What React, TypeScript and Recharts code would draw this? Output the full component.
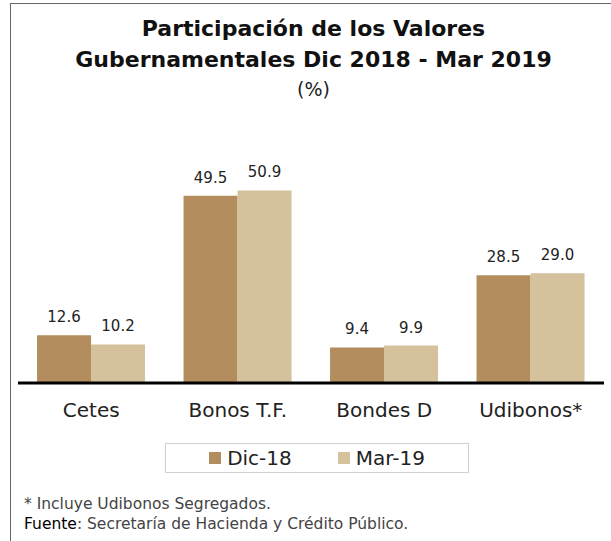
import React from 'react';
import { BarChart, Bar, XAxis, YAxis, LabelList } from 'recharts';

const categories = ['Cetes', 'Bonos T.F.', 'Bondes D', 'Udibonos*'];
const dic18 = [12.6, 49.5, 9.4, 28.5];
const mar19 = [10.2, 50.9, 9.9, 29.0];

const seriesNames = ['Dic-18', 'Mar-19'];
const colors = ['#B38D5E', '#D5C19C'];

const font = '"DejaVu Sans", sans-serif';

const data = categories.map((name, i) => ({ name, dic18: dic18[i], mar19: mar19[i] }));

const fmt = (v: any) => Number(v).toFixed(1);

const App: React.FC = () => {
    return (
        <div style={{ position: 'absolute', left: 0, top: 0, width: 611, height: 541, background: '#fff', fontFamily: font, overflow: 'hidden' }}>
            {/* frame */}
            <div style={{ position: 'absolute', left: 10, top: 3, width: 620, height: 560, borderLeft: '1.5px solid #666', borderTop: '1.5px solid #666' }} />

            <div style={{ position: 'absolute', left: 0, top: 13, width: 627, textAlign: 'center', color: '#111' }}>
                <div style={{ fontSize: 22, fontWeight: 'bold', lineHeight: '31px' }}>Participación de los Valores</div>
                <div style={{ fontSize: 22, fontWeight: 'bold', lineHeight: '31px' }}>Gubernamentales Dic 2018 - Mar 2019</div>
                <div style={{ fontSize: 19, lineHeight: '28px', color: '#222' }}>(%)</div>
            </div>

            <div style={{ position: 'absolute', left: 0, top: 0 }}>
                <BarChart width={611} height={440} data={data} margin={{ top: 156, right: 7, left: 18, bottom: 7 }} barCategoryGap="13%" barGap={0}>
                    <YAxis hide domain={[0, 60]} />
                    <XAxis
                        dataKey="name"
                        height={50}
                        axisLine={{ stroke: '#000', strokeWidth: 3 }}
                        tickLine={false}
                        tickMargin={14}
                        interval={0}
                        tick={{ fontSize: 20, fill: '#222', fontFamily: font }}
                    />
                    <Bar dataKey="dic18" fill={colors[0]} isAnimationActive={false}>
                        <LabelList dataKey="dic18" position="top" offset={13} formatter={fmt} style={{ fontSize: 15, fill: '#222', fontFamily: font }} />
                    </Bar>
                    <Bar dataKey="mar19" fill={colors[1]} isAnimationActive={false}>
                        <LabelList dataKey="mar19" position="top" offset={13} formatter={fmt} style={{ fontSize: 15, fill: '#222', fontFamily: font }} />
                    </Bar>
                </BarChart>
            </div>

            {/* legend */}
            <div style={{ position: 'absolute', left: 165, top: 443, width: 302, height: 28, border: '1px solid #d0d0d0', display: 'flex', alignItems: 'center', justifyContent: 'center', fontSize: 20, color: '#222' }}>
                {seriesNames.map((s, i) => (
                    <div key={s} style={{ display: 'flex', alignItems: 'center', marginLeft: i === 0 ? 0 : 46 }}>
                        <span style={{ display: 'inline-block', width: 12, height: 12, background: colors[i], marginRight: 6 }} />
                        <span>{s}</span>
                    </div>
                ))}
            </div>

            <div style={{ position: 'absolute', left: 24, top: 494, fontSize: 15.5, lineHeight: '20px', color: '#444' }}>
                <div>* Incluye Udibonos Segregados.</div>
                <div><span style={{ color: '#000' }}>Fuente</span>: Secretaría de Hacienda y Crédito Público.</div>
            </div>
        </div>
    );
};

export default App;
